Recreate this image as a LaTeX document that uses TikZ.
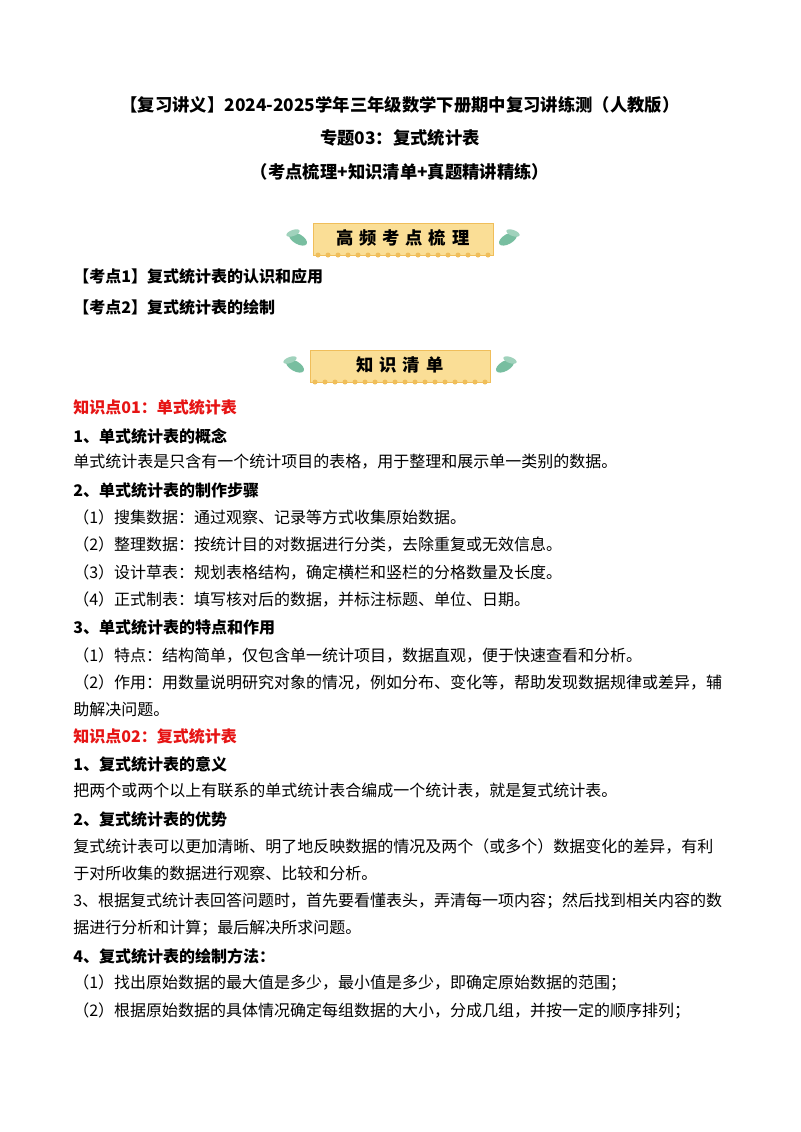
\documentclass[tikz,border=0pt]{standalone}
\usepackage{fontspec}
\newfontfamily\cjk{Noto Sans CJK SC}
\definecolor{ban}{RGB}{250,222,150}
\definecolor{banb}{RGB}{240,190,90}
\definecolor{leaf}{RGB}{120,190,160}
\definecolor{kred}{RGB}{230,20,20}
\tikzset{
 tx/.style={anchor=west,inner sep=0,font=\cjk\fontsize{12}{12}\selectfont},
 hd/.style={anchor=west,inner sep=0,font=\cjk\bfseries\fontsize{12}{12}\selectfont},
 rh/.style={hd,text=kred},
 tt/.style={inner sep=0,font=\cjk\bfseries\fontsize{13}{13}\selectfont},
}
\newcommand{\banner}[4]{%
 \fill[ban,draw=banb,line width=0.5] (#1-90,#2-16) rectangle (#1+90,#2+16);
 \foreach \i in {0,...,17}{\fill[banb] (#1-85+\i*10,#2+16) circle[radius=2.5];}
 \foreach \s in {-1,1}{
  \fill[leaf,rotate around={\s*30:(#1+\s*105,#2)}] (#1+\s*105,#2) ellipse[x radius=10,y radius=5];
  \fill[leaf!70,rotate around={-\s*20:(#1+\s*110,#2-6)}] (#1+\s*110,#2-6) ellipse[x radius=7,y radius=3];
 }
 \node[inner sep=0,font=\cjk\bfseries\fontsize{13}{13}\selectfont] (#4) at (#1,#2-1) {#3};
}
\begin{document}
\begin{tikzpicture}[x=0.75pt,y=-0.75pt]
\useasboundingbox (0,0) rectangle (800,1132);
\fill[white] (0,0) rectangle (800,1132);
\node[tt] (t1) at (400,105) {【复习讲义】2024-2025学年三年级数学下册期中复习讲练测（人教版）};
\node[tt] (t2) at (400,138) {专题03：复式统计表};
\node[tt] (t3) at (400,172) {（考点梳理+知识清单+真题精讲精练）};
\banner{403}{239}{高\,\,频\,\,考\,\,点\,\,梳\,\,理}{ban1}
\node[hd] (k1) at (73,276) {【考点1】复式统计表的认识和应用};
\node[hd] (k2) at (73,307) {【考点2】复式统计表的绘制};
\banner{400}{366}{知\,\,识\,\,清\,\,单}{ban2}
\node[rh] (z1) at (73,407) {知识点01：单式统计表};
\node[hd] (a1) at (73,436) {1、单式统计表的概念};
\node[tx] (b1) at (73,462) {单式统计表是只含有一个统计项目的表格，用于整理和展示单一类别的数据。};
\node[hd] (a2) at (73,490) {2、单式统计表的制作步骤};
\node[tx] (b2) at (73,517) {（1）搜集数据：通过观察、记录等方式收集原始数据。};
\node[tx] (b3) at (73,545) {（2）整理数据：按统计目的对数据进行分类，去除重复或无效信息。};
\node[tx] (b4) at (73,572) {（3）设计草表：规划表格结构，确定横栏和竖栏的分格数量及长度。};
\node[tx] (b5) at (73,599) {（4）正式制表：填写核对后的数据，并标注标题、单位、日期。};
\node[hd] (a3) at (73,627) {3、单式统计表的特点和作用};
\node[tx] (b6) at (73,655) {（1）特点：结构简单，仅包含单一统计项目，数据直观，便于快速查看和分析。};
\node[tx] (b7) at (73,682) {（2）作用：用数量说明研究对象的情况，例如分布、变化等，帮助发现数据规律或差异，辅};
\node[tx] (b8) at (73,709) {助解决问题。};
\node[rh] (z2) at (73,736) {知识点02：复式统计表};
\node[hd] (a4) at (73,764) {1、复式统计表的意义};
\node[tx] (c1) at (73,791) {把两个或两个以上有联系的单式统计表合编成一个统计表，就是复式统计表。};
\node[hd] (a5) at (73,819) {2、复式统计表的优势};
\node[tx] (c2) at (73,846) {复式统计表可以更加清晰、明了地反映数据的情况及两个（或多个）数据变化的差异，有利};
\node[tx] (c3) at (73,873) {于对所收集的数据进行观察、比较和分析。};
\node[tx] (c4) at (73,901) {3、根据复式统计表回答问题时，首先要看懂表头，弄清每一项内容；然后找到相关内容的数};
\node[tx] (c5) at (73,928) {据进行分析和计算；最后解决所求问题。};
\node[hd] (a6) at (73,956) {4、复式统计表的绘制方法：};
\node[tx] (c6) at (73,983) {（1）找出原始数据的最大值是多少，最小值是多少，即确定原始数据的范围；};
\node[tx] (c7) at (73,1011) {（2）根据原始数据的具体情况确定每组数据的大小，分成几组，并按一定的顺序排列；};
\end{tikzpicture}
\end{document}
